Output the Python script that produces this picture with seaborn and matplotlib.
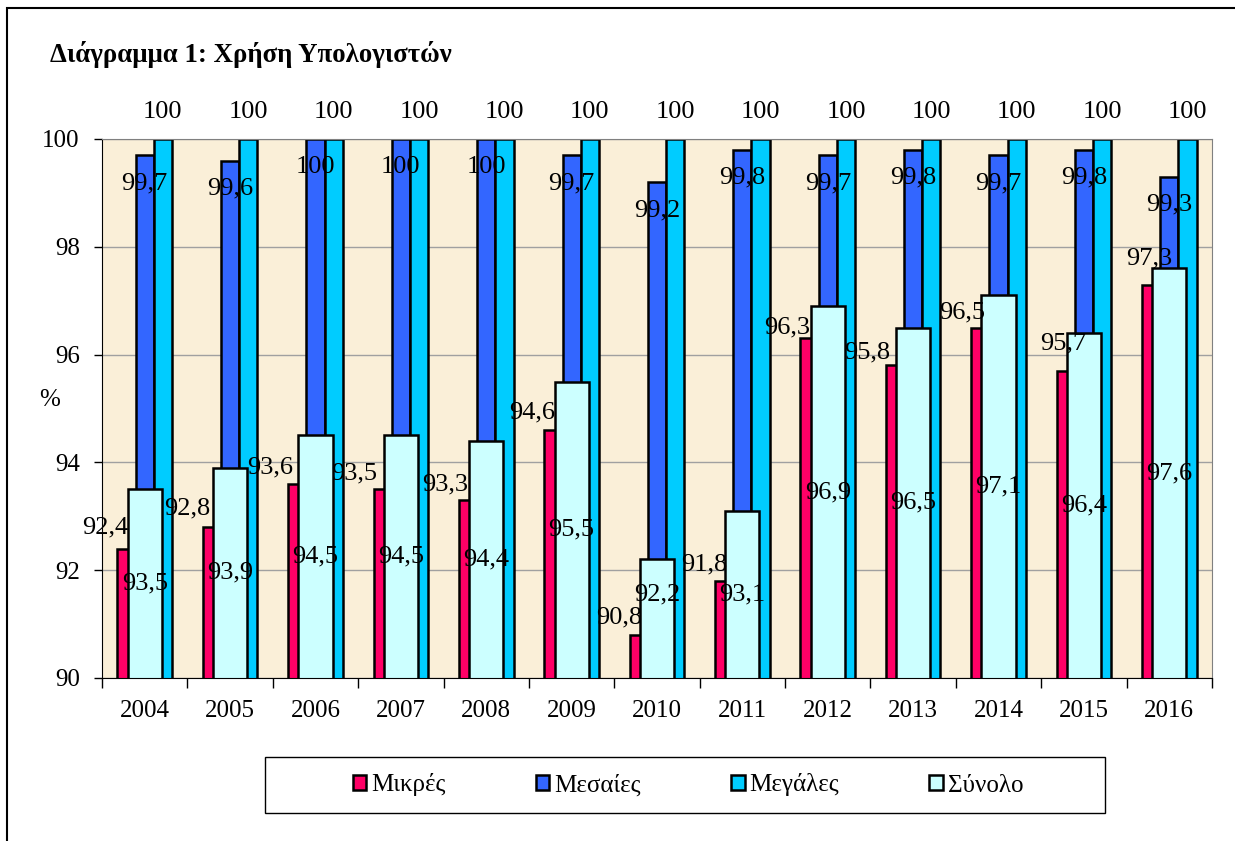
import numpy as np
import pandas as pd
import seaborn as sns
import matplotlib
matplotlib.use("Agg")
import matplotlib.pyplot as plt
from matplotlib.patches import Patch, Rectangle

# data
years = ["2004", "2005", "2006", "2007", "2008", "2009", "2010",
         "2011", "2012", "2013", "2014", "2015", "2016"]
mikres = [92.4, 92.8, 93.6, 93.5, 93.3, 94.6, 90.8, 91.8, 96.3, 95.8, 96.5, 95.7, 97.3]
mesaies = [99.7, 99.6, 100, 100, 100, 99.7, 99.2, 99.8, 99.7, 99.8, 99.7, 99.8, 99.3]
megales = [100, 100, 100, 100, 100, 100, 100, 100, 100, 100, 100, 100, 100]
synolo = [93.5, 93.9, 94.5, 94.5, 94.4, 95.5, 92.2, 93.1, 96.9, 96.5, 97.1, 96.4, 97.6]
series_names = ["Μικρές", "Μεσαίες", "Μεγάλες", "Σύνολο"]
colors = ["#FF0066", "#3366FF", "#00CCFF", "#CCFFFF"]

# label nudges (category units / value units), as placed by hand in the original
mikres_label_dx = [-0.25, -0.29, -0.32, -0.33, -0.27, -0.25, -0.23, -0.23, -0.26, -0.32, -0.21, -0.03, -0.02]
mikres_label_dy = [0.39, 0.35, 0.3, 0.3, 0.3, 0.32, 0.32, 0.3, 0.2, 0.24, 0.28, 0.5, 0.48]
synolo_label_dy = [0, 0, 0, 0, 0, 0, 0.45, 0, 0, 0, 0, 0, 0]

plt.rcParams['font.family'] = ['Liberation Serif', 'DejaVu Serif']

df = pd.DataFrame({
    "year": years * 3,
    "value": mikres + mesaies + megales,
    "series": [series_names[0]] * 13 + [series_names[1]] * 13 + [series_names[2]] * 13,
})

def fmt(v):
    return str(int(v)) if v == int(v) else str(v).replace(".", ",")

fig = plt.figure(figsize=(12.35, 8.41), dpi=100)
ax = fig.add_axes([102/1235, 163/841, 1110/1235, 539/841])
ax.set_facecolor("#FAEFD8")

sns.barplot(data=df, x="year", y="value", hue="series", hue_order=series_names[:3],
            palette=dict(zip(series_names[:3], colors[:3])), width=0.64, saturation=1,
            edgecolor="black", linewidth=1.8, legend=False, ax=ax)
sns.barplot(x=years, y=synolo, color=colors[3], width=0.40, saturation=1,
            edgecolor="black", linewidth=1.8, ax=ax)

ax.set_ylim(90, 100)
ax.set_xlim(-0.5, 12.5)
ax.set_yticks(np.arange(90, 101, 2))
ax.yaxis.grid(True, color="#A0A0A0", linewidth=1)
ax.set_axisbelow(True)
ax.tick_params(axis="y", labelsize=18, length=6, width=1, pad=10, direction="out", colors="black")
ax.set_xticks(range(13), labels=years)
ax.tick_params(axis="x", which="major", labelsize=18, length=0, pad=16)
ax.set_xticks(np.arange(-0.5, 13, 1), minor=True)
ax.tick_params(axis="x", which="minor", length=7, width=1, direction="out")
ax.set_xlabel("")
ax.set_ylabel("%", rotation=0, fontsize=18)
ax.yaxis.set_label_coords(-0.047, 0.495)
ax.spines["left"].set_color("black")
ax.spines["bottom"].set_color("black")
ax.spines["top"].set_color("#808080")
ax.spines["right"].set_color("#808080")

# data labels
bars_mik, bars_mes, bars_meg, bars_syn = ax.containers
for i, b in enumerate(bars_mik):
    ax.text(b.get_x() + b.get_width()/2 + mikres_label_dx[i], mikres[i] + mikres_label_dy[i],
            fmt(mikres[i]), ha="center", va="center", fontsize=19, clip_on=False, zorder=5)
for i, b in enumerate(bars_mes):
    ax.text(b.get_x() + b.get_width()/2, mesaies[i] - 0.52, fmt(mesaies[i]),
            ha="center", va="center", fontsize=19, zorder=5)
for i, b in enumerate(bars_meg):
    ax.text(b.get_x() + b.get_width()/2, megales[i] + 0.5, fmt(megales[i]),
            ha="center", va="center", fontsize=19, clip_on=False, zorder=5)
for i, b in enumerate(bars_syn):
    ax.text(b.get_x() + b.get_width()/2, (90 + synolo[i]) / 2 + synolo_label_dy[i], fmt(synolo[i]),
            ha="center", va="center", fontsize=19, zorder=5)

fig.text(50/1235, 1 - 55/841, "Διάγραμμα 1: Χρήση Υπολογιστών", fontsize=19.3,
         fontweight="bold", ha="left", va="center")

# legend
handles = [Patch(facecolor=c, edgecolor="black", linewidth=1.8) for c in colors]
fig.legend(handles, series_names, loc="center", bbox_to_anchor=(688/1235, 1 - 785/841),
           ncol=4, frameon=False, fontsize=18, handlelength=0.55, handleheight=0.55,
           handletextpad=0.2, columnspacing=3.6)
fig.add_artist(Rectangle((265/1235, 1 - 813/841), 840/1235, 56/841, transform=fig.transFigure,
                         fill=False, edgecolor="black", linewidth=1))
fig.add_artist(Rectangle((7/1235, -0.1), 1.2, (841 - 8)/841 + 0.1, transform=fig.transFigure,
                         fill=False, edgecolor="black", linewidth=1.5))

fig.savefig("out.png", dpi=100)
